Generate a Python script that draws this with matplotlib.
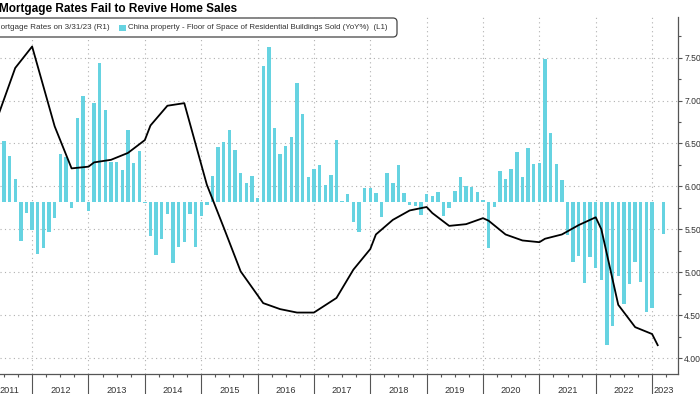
import matplotlib
matplotlib.use("Agg")
import matplotlib.pyplot as plt
import matplotlib.transforms as mtransforms
from matplotlib.patches import FancyBboxPatch, Rectangle
import numpy as np

#floor space sold yoy %, 10 bars per year starting mid 2011
bar_start = 2011.5
bar_vals = [
    14.1, 10.7, 5.3, -9.1, -2.6, -6.5, -12.0, -10.6, -7.1, -3.7,
    11.1, 10.5, -1.4, 19.5, 24.6, -2.2, 23.0, 32.2, 21.3, 9.2,
    9.3, 7.4, 16.8, 9.1, 11.9, -0.3, -8.0, -12.4, -8.5, -2.9,
    -14.1, -10.5, -9.4, -2.7, -10.5, -3.3, -0.8, 6.0, 12.7, 14.0,
    16.7, 12.1, 6.8, 4.4, 6.0, 1.0, 31.6, 36.1, 17.1, 11.1,
    13.1, 15.0, 27.7, 20.4, 5.9, 7.6, 8.6, 4.0, 6.3, 14.3,
    0.2, 1.9, -4.6, -6.9, 3.3, 3.3, 2.0, -3.4, 6.7, 4.3,
    8.6, 2.0, -0.7, -0.9, -3.0, 1.9, 1.4, 2.2, -3.2, -1.5,
    2.6, 5.8, 3.6, 3.4, 2.3, 0.5, -10.8, -1.1, 7.2, 5.3,
    7.7, 11.5, 5.9, 12.5, 8.8, 9.1, 33.2, 16.1, 8.8, 5.1,
    -7.7, -13.9, -12.5, -18.9, -12.7, -15.3, -18.1, -33.3, -28.8, -17.2,
    -23.8, -19.1, -13.9, -18.7, -25.7, -24.7, np.nan, -7.4,
]
bar_t = bar_start + 0.1 * np.arange(len(bar_vals))

#mortgage rate (R1)
rate_t = [2011.4, 2011.7, 2012.0, 2012.4, 2012.7, 2013.0, 2013.1, 2013.4, 2013.7,
          2014.0, 2014.1, 2014.4, 2014.7, 2015.1, 2015.4, 2015.7, 2016.1, 2016.4,
          2016.7, 2017.0, 2017.4, 2017.7, 2018.0, 2018.1, 2018.4, 2018.7, 2019.0,
          2019.1, 2019.4, 2019.7, 2020.0, 2020.1, 2020.4, 2020.7, 2021.0, 2021.1,
          2021.4, 2021.7, 2022.0, 2022.1, 2022.4, 2022.7, 2023.0, 2023.1]
rate_v = [6.83, 7.38, 7.63, 6.70, 6.21, 6.23, 6.28, 6.31, 6.39,
          6.54, 6.71, 6.94, 6.97, 6.02, 5.52, 5.01, 4.64, 4.57,
          4.53, 4.53, 4.70, 5.03, 5.27, 5.44, 5.61, 5.72, 5.76,
          5.69, 5.54, 5.56, 5.63, 5.60, 5.44, 5.37, 5.35, 5.39,
          5.44, 5.55, 5.64, 5.50, 4.62, 4.36, 4.28, 4.15]

years = list(range(2011, 2024))
rate_ticks = [4.0, 4.5, 5.0, 5.5, 6.0, 6.5, 7.0, 7.5]

W, H = 700, 394
bar_col = "#66d3e1"
txt_col = "#333333"
axis_col = "#555555"
plt.rcParams["font.family"] = "Liberation Sans"

fig = plt.figure(figsize=(W / 100, H / 100), dpi=100)
ax = fig.add_axes([0, 1 - 374 / H, 678 / W, (374 - 17) / H])

#bars on hidden left axis (L1)
axb = ax.twinx()
axb.bar(bar_t, bar_vals, width=0.06, color=bar_col, linewidth=0)
axb.set_ylim(-40, 43)
axb.set_axis_off()

#line on top
axl = ax.twinx()
axl.plot(rate_t, rate_v, color="black", lw=1.3)
axl.set_axis_off()

#right hand rate axis (twinx moves ticks left, so set after)
ax.yaxis.tick_right()
ax.set_yticks(rate_ticks)
ax.set_yticklabels([f"{v:.2f}" for v in rate_ticks])
ax.set_yticks(np.arange(4.25, 8.0, 0.5), minor=True)
ax.tick_params(axis="y", which="major", length=3, width=0.8, pad=1.5,
               labelsize=6.2, colors=axis_col, labelcolor=txt_col,
               left=False, labelleft=False, right=True, labelright=True)
ax.tick_params(axis="y", which="minor", length=2, width=0.8, colors=axis_col,
               left=False, right=True)

#years on bottom, long separators
ax.set_xticks(years[1:])
ax.set_xticks([y + q for y in years for q in (0.25, 0.5, 0.75)], minor=True)
ax.tick_params(axis="x", which="major", length=20, width=0.8, colors=axis_col, labelbottom=False)
ax.tick_params(axis="x", which="minor", length=2.5, width=0.8, colors=axis_col)

#limits last: set_xticks and the twins' autoscale both widen the view
ax.set_xlim(2011.43, 2023.46)
ax.set_ylim(3.814, 7.974)
axl.set_ylim(3.814, 7.974)

ax.grid(True, which="major", color="#b0b0b0", linestyle=(0, (1, 3)), linewidth=0.8)
for s in ["left", "top"]:
    ax.spines[s].set_visible(False)
for s in ["right", "bottom"]:
    ax.spines[s].set_color(axis_col)
    ax.spines[s].set_linewidth(0.9)

lab_x = [y + 0.5 for y in years]
lab_x[0] = 2011.6
lab_x[-1] = 2023.2
trans = mtransforms.blended_transform_factory(ax.transData, ax.transAxes)
for x, y in zip(lab_x, years):
    ax.text(x, -0.045, str(y), transform=trans, ha="center", va="center",
            fontsize=6.6, color=txt_col, clip_on=False)

#title and legend
fig.text(-1 / W, 1 - 9 / H, "Mortgage Rates Fail to Revive Home Sales",
         fontsize=8.5, fontweight="bold", ha="left", va="center")

fig.patches.append(FancyBboxPatch((-0.2, (H - 37) / 100), 0.2 + 3.97, 0.19,
                                  boxstyle="round,pad=0,rounding_size=0.04",
                                  transform=fig.dpi_scale_trans, facecolor="white",
                                  edgecolor="#444444", linewidth=0.9, figure=fig))
fig.patches.append(Rectangle((1.19, (H - 31) / 100), 0.065, 0.065, transform=fig.dpi_scale_trans,
                             facecolor=bar_col, edgecolor="none", figure=fig))
fig.text(110 / W, 1 - 27.5 / H, "Mortgage Rates on 3/31/23 (R1)", ha="right", va="center",
         fontsize=5.8, color=txt_col)
fig.text(128 / W, 1 - 27.5 / H,
         "China property - Floor of Space of Residential Buildings Sold (YoY%)  (L1)",
         ha="left", va="center", fontsize=5.7, color=txt_col)

fig.savefig("out.png", dpi=100)
